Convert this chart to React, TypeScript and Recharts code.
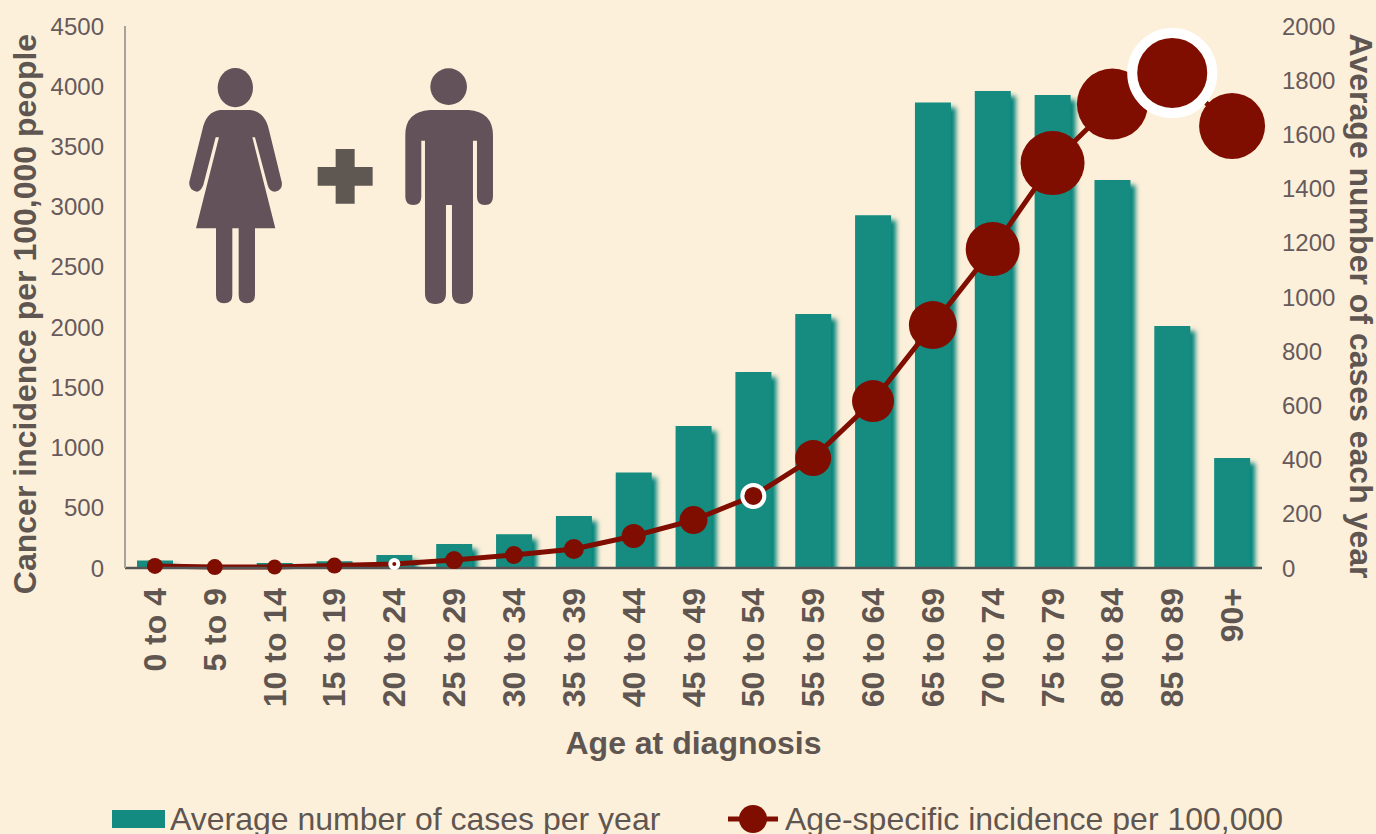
import React from "react";
import { Bar, ComposedChart, Legend, Line, XAxis, YAxis } from "recharts";

const ageGroups = [
  "0 to 4", "5 to 9", "10 to 14", "15 to 19", "20 to 24", "25 to 29", "30 to 34",
  "35 to 39", "40 to 44", "45 to 49", "50 to 54", "55 to 59", "60 to 64", "65 to 69",
  "70 to 74", "75 to 79", "80 to 84", "85 to 89", "90+",
];
const casesPerYear = [
  28, 5, 18, 25, 48, 89, 125, 192, 352, 524, 723, 937, 1302, 1718, 1760, 1745, 1432, 893, 406,
];
const incidencePer100k = [
  17, 8, 8, 20, 33, 66, 108, 158, 266, 398, 598, 913, 1386, 2017, 2648, 3362, 3852, 4109, 3670,
];
const leftTicks = [0, 500, 1000, 1500, 2000, 2500, 3000, 3500, 4000, 4500];
const rightTicks = [0, 200, 400, 600, 800, 1000, 1200, 1400, 1600, 1800, 2000];

// marker size for each age group, and which ones get the white ring
const markerRadius = [8, 8, 7.5, 8, 2, 9, 9, 10, 12, 14, 9, 18, 21, 24, 27, 32, 35.5, 35, 33];
const ringWidth: Record<number, number> = { 4: 4, 10: 4, 17: 10 };

const chartData = ageGroups.map((age, i) => ({
  age,
  cases: casesPerYear[i],
  incidence: incidencePer100k[i],
}));

const BG = "#fdf0da";
const TEAL = "#148b80";
const RED = "#7f0e00";
const TICK = "#665a5c";
const TITLE = "#5f5651";
const FONT = '"Liberation Sans", Arial, sans-serif';

function AgeTick({ x, y, payload }: any) {
  return (
    <text
      transform={`translate(${x}, ${y + 12}) rotate(-90)`}
      textAnchor="end"
      dominantBaseline="central"
      fontFamily={FONT}
      fontSize={32}
      fontWeight="bold"
      fill={TITLE}
    >
      {payload.value}
    </text>
  );
}

function IncidenceDot({ cx, cy, index }: any) {
  const r = markerRadius[index];
  const ring = ringWidth[index];
  if (ring) {
    return (
      <circle key={index} cx={cx} cy={cy} r={r + ring / 2} fill={RED} stroke="#ffffff" strokeWidth={ring} />
    );
  }
  return <circle key={index} cx={cx} cy={cy} r={r} fill={RED} />;
}

function ChartLegend() {
  return (
    <svg width={1376} height={44} style={{ display: "block" }}>
      <rect x={112} y={20} width={53} height={18} fill={TEAL} />
      <text x={170} y={40} fontFamily={FONT} fontSize={32} fill={TITLE}>
        Average number of cases per year
      </text>
      <line x1={728} x2={778} y1={29} y2={29} stroke={RED} strokeWidth={5} />
      <circle cx={753} cy={29} r={14} fill={RED} />
      <text x={785} y={40} fontFamily={FONT} fontSize={32} fill={TITLE}>
        Age-specific incidence per 100,000
      </text>
    </svg>
  );
}

function People() {
  return (
    <svg
      width={1376}
      height={834}
      style={{ position: "absolute", left: 0, top: 0, pointerEvents: "none" }}
    >
      <g transform="translate(170 50) scale(0.3333)">
        <g fill="#635259">
          <ellipse cx={196} cy={113} rx={53} ry={59} />
          <path d="M150,180 H240 Q285,185 297,240 L335,395 Q340,420 315,425 Q298,425 293,405 L255,262 H247 L316,535 H255 V735 Q255,760 230,760 Q206,760 206,735 V535 H187 V735 Q187,760 162,760 Q138,760 138,735 V535 H78 L147,262 H137 L100,405 Q92,425 80,425 Q55,420 58,395 L97,240 Q108,185 150,180 Z" />
          <circle cx={836} cy={110} r={55} />
          <path d="M780,180 H895 Q968,185 969,255 V440 Q969,465 945,465 Q921,465 921,440 V272 H909 V730 Q909,762 877,762 Q846,762 846,730 V465 H828 V730 Q828,762 796,762 Q765,762 765,730 V272 H754 V440 Q754,465 730,465 Q706,465 706,440 V255 Q706,185 780,180 Z" />
        </g>
        <path fill="#5f5852" d="M497,297 H554 V351 H608 V407 H554 V461 H497 V407 H443 V351 H497 Z" />
      </g>
    </svg>
  );
}

export default function App() {
  return (
    <div
      style={{
        position: "absolute",
        left: 0,
        top: 0,
        width: 1376,
        height: 834,
        overflow: "hidden",
        background: BG,
      }}
    >
      <ComposedChart
        width={1376}
        height={834}
        data={chartData}
        margin={{ top: 26, right: 0, bottom: 72, left: 0 }}
      >
        <defs>
          {/* filter region stops at the baseline so the shadow doesn't spill under the axis */}
          <filter
            id="barShadow"
            filterUnits="userSpaceOnUse"
            x={0}
            y={0}
            width={1376}
            height={568}
          >
            <feDropShadow dx={5} dy={5} stdDeviation={2.6} floodColor="#00837a" floodOpacity={1} />
          </filter>
        </defs>
        <XAxis
          dataKey="age"
          height={150}
          interval={0}
          tick={AgeTick}
          tickLine={false}
          axisLine={{ stroke: "#555555", strokeWidth: 2.5 }}
          label={{
            value: "Age at diagnosis",
            position: "insideBottom",
            offset: -36,
            fontFamily: FONT,
            fontSize: 32,
            fontWeight: "bold",
            fill: TITLE,
          }}
        />
        <YAxis
          yAxisId="incidence"
          orientation="left"
          width={125}
          domain={[0, 4500]}
          ticks={leftTicks}
          interval={0}
          tickSize={0}
          tickMargin={21}
          tick={{ fontFamily: FONT, fontSize: 24, fill: TICK }}
          axisLine={{ stroke: "#a6a29c", strokeWidth: 2 }}
          label={{
            value: "Cancer incidence per 100,000 people",
            angle: -90,
            position: "insideLeft",
            textAnchor: "middle",
            dx: 20,
            dy: 17,
            fontFamily: FONT,
            fontSize: 32,
            fontWeight: "bold",
            fill: TITLE,
          }}
        />
        <YAxis
          yAxisId="cases"
          orientation="right"
          width={114}
          domain={[0, 2000]}
          ticks={rightTicks}
          interval={0}
          tickSize={0}
          tickMargin={20}
          axisLine={false}
          tick={{ fontFamily: FONT, fontSize: 24, fill: TICK }}
          label={{
            value: "Average number of cases each year",
            angle: 90,
            position: "insideRight",
            textAnchor: "middle",
            dx: -10,
            dy: 9,
            fontFamily: FONT,
            fontSize: 32,
            fontWeight: "bold",
            fill: TITLE,
          }}
        />
        <Bar
          yAxisId="cases"
          dataKey="cases"
          name="Average number of cases per year"
          fill={TEAL}
          barSize={36}
          filter="url(#barShadow)"
          isAnimationActive={false}
        />
        <Line
          yAxisId="incidence"
          dataKey="incidence"
          name="Age-specific incidence per 100,000"
          type="linear"
          stroke={RED}
          strokeWidth={5}
          dot={IncidenceDot}
          activeDot={false}
          isAnimationActive={false}
        />
        <Legend
          height={34}
          content={ChartLegend}
          wrapperStyle={{ position: "absolute", left: 0, top: 790, width: 1376, height: 44 }}
        />
      </ComposedChart>
      <People />
    </div>
  );
}
